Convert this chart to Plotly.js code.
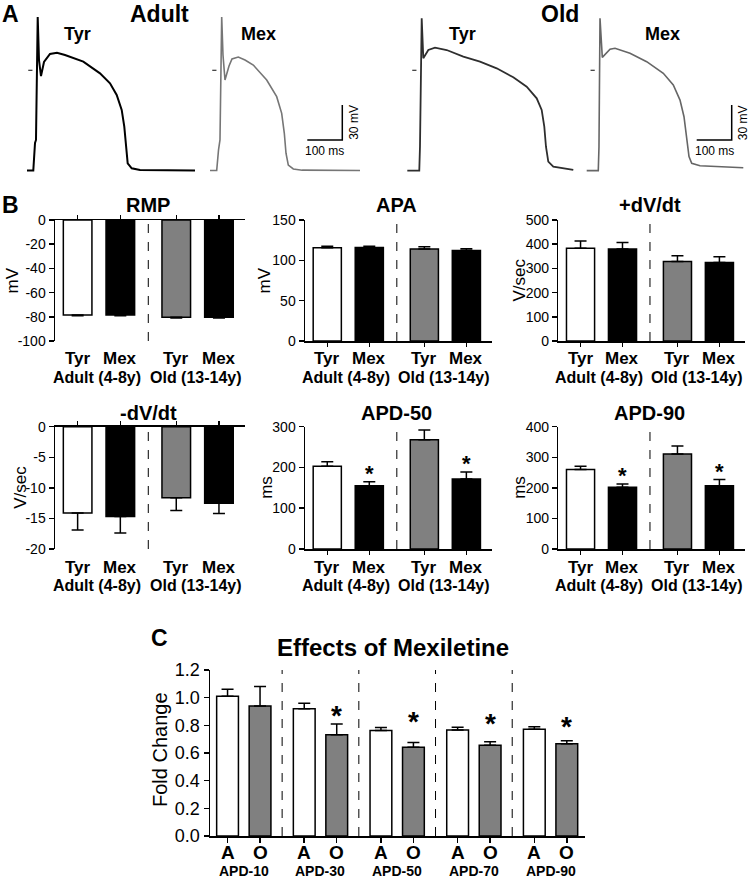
<!DOCTYPE html>
<html>
<head>
<meta charset="utf-8">
<script src="https://cdn.plot.ly/plotly-3.0.1.min.js"></script>
<style>
  html, body { margin: 0; padding: 0; background: #fff; }
  #chart { width: 750px; height: 879px; }
</style>
</head>
<body>
<div id="chart"></div>
<script>
// Mexiletine figure: A) action potential traces, B) AP parameters, C) fold change.
const W = 750, H = 879;
const FONT = 'Liberation Sans, Arial, Helvetica, sans-serif';

// ---- Panel A: representative action potentials (ms from upstroke, mV) ----
const adultTyrT = [-30.6, -12.6, -7.7, -4.9, 0, 3.7, 9.4, 18, 35.1, 55.1, 78, 130.3, 178, 206.6, 225.7, 240, 247.4, 252.3, 257.1, 268.6, 292.3, 449.4];
const adultTyrV = [-85.9, -85.9, -62.3, -59.7, 45.7, 8.8, -4.9, 7.1, 14.0, 15.1, 13.1, 7.4, -2.6, -11.1, -21.2, -34, -48.3, -68.3, -79.7, -84, -85.4, -85.9];
const adultMexT = [-33.4, -14.3, -9.1, -4.9, 0, 3.7, 9.4, 20.9, 29.4, 47.4, 66.6, 90.3, 128.6, 157.1, 171.4, 178.9, 183.7, 190.3, 204.6, 230, 395.1];
const adultMexV = [-85.9, -85.9, -68.3, -59.7, 45.7, 13.1, -8.3, 3.7, 9.7, 11.4, 8.8, 4.5, -8.3, -22.6, -36.9, -54, -71.1, -81.2, -84.6, -85.6, -85.9];
const oldTyrT = [-41.1, -6.9, -4.9, 0, 4.6, 18.9, 38, 71.4, 118.9, 166.6, 214.3, 261.7, 300, 328.6, 342.8, 350.3, 355.1, 361.7, 376, 433.1];
const oldTyrV = [-86, -86, -65.5, 44.6, 10.3, 17.4, 19.4, 17.4, 11.7, 7.4, 1.7, -6, -14.1, -24, -34, -48.3, -65.5, -78.3, -82.6, -85.4];
const oldMexT = [-38, -4.9, -2.9, 0, 6.6, 28.6, 42.9, 85.7, 133.4, 180.9, 209.4, 228.6, 240, 247.7, 254.3, 262, 285.7, 409.4];
const oldMexV = [-86, -86, -65.5, 44.6, 11.1, 18, 18.9, 14.6, 7.4, -2.6, -12.6, -25.5, -39.8, -59.7, -74, -79.7, -81.8, -83.5];
const AP_LABELS = ['Tyr', 'Mex', 'Tyr', 'Mex'];
const AGE_TITLES = ['Adult', 'Old'];
const SCALE_MS = 100, SCALE_MV = 30;

// ---- Panel B: mean and SEM for Adult Tyr, Adult Mex, Old Tyr, Old Mex ----
const B_GROUPS = ['Tyr', 'Mex', 'Tyr', 'Mex'];
const B_AGES = ['Adult (4-8y)', 'Old (13-14y)'];
const rmpMean  = [-78.5, -78.6, -80.4, -80.3];
const rmpErr   = [0.6, 0.5, 0.6, 0.6];
const apaMean  = [115.5, 116, 114.2, 112.3];
const apaErr   = [2, 1.5, 2.5, 2];
const upMean   = [383, 380, 328, 324];
const upErr    = [30, 27, 24, 24];
const downMean = [-14.1, -14.7, -11.6, -12.5];
const downErr  = [2.8, 2.7, 2.1, 1.7];
const apd50Mean = [203, 155, 268, 172];
const apd50Err  = [11, 10, 24, 17];
const apd90Mean = [260, 202, 311, 207];
const apd90Err  = [11, 11, 26, 20];
const sigVsTyr  = [false, true, false, true];

// ---- Panel C: fold change with mexiletine, Adult (A) vs Old (O) ----
const C_GROUPS = ['APD-10', 'APD-30', 'APD-50', 'APD-70', 'APD-90'];
const cAdult    = [1.01, 0.92, 0.762, 0.766, 0.772];
const cAdultErr = [0.05, 0.04, 0.022, 0.02, 0.018];
const cOld      = [0.94, 0.732, 0.642, 0.656, 0.666];
const cOldErr   = [0.14, 0.078, 0.033, 0.026, 0.023];
const cStarY    = [null, 0.91, 0.862, 0.853, 0.826];

// ---- helpers ----
const px = x => x / W;
const py = y => 1 - y / H;
const axName = (k, n) => k + 'axis' + (n === 1 ? '' : n);
const axRef = (k, n) => k + (n === 1 ? '' : n);

const traces = [];
const layout = {
  width: W, height: H,
  margin: { l: 0, r: 0, t: 0, b: 0 },
  paper_bgcolor: '#ffffff', plot_bgcolor: 'rgba(0,0,0,0)',
  showlegend: false,
  font: { family: FONT, color: '#000' },
  annotations: [], shapes: []
};
function note(text, x, y, size, extra) {
  layout.annotations.push(Object.assign({
    text: text, x: px(x), y: py(y), xref: 'paper', yref: 'paper',
    showarrow: false, xanchor: 'center', yanchor: 'middle', borderpad: 0,
    font: { family: FONT, size: size, color: '#000' }
  }, extra || {}));
}
// label at a data x position on axis xr, pixel row y
function dataLabel(text, x, xr, y, size) {
  layout.annotations.push({
    text: text, x: x, xref: xr, y: py(y), yref: 'paper', showarrow: false, borderpad: 0,
    xanchor: 'center', yanchor: 'middle', font: { family: FONT, size: size, color: '#000' }
  });
}

// ---- Panel A ----
const apT = [adultTyrT, adultMexT, oldTyrT, oldMexT];
const apV = [adultTyrV, adultMexV, oldTyrV, oldMexV];
const apColor = ['#000000', '#767676', '#2e2e2e', '#666666'];
const apWidth = [2, 1.6, 1.8, 1.6];
const apBox = [[20, 200, 37.7], [205, 365, 221.7], [400, 580, 421.7], [583, 748, 600]];
const AP_TOP = 8, AP_BOTTOM = 178, ZERO_Y = 70.3;
const PX_MS = 0.35, PX_MV = 35 / 30;

apT.forEach((t, i) => {
  const n = i + 1, [L, R, xs] = apBox[i];
  layout[axName('x', n)] = { domain: [px(L), px(R)], range: [(L - xs) / PX_MS, (R - xs) / PX_MS],
    visible: false, anchor: axRef('y', n), fixedrange: true };
  layout[axName('y', n)] = { domain: [py(AP_BOTTOM), py(AP_TOP)],
    range: [(ZERO_Y - AP_BOTTOM) / PX_MV, (ZERO_Y - AP_TOP) / PX_MV],
    visible: false, anchor: axRef('x', n), fixedrange: true };
  traces.push({ x: t, y: apV[i], type: 'scatter', mode: 'lines', xaxis: axRef('x', n), yaxis: axRef('y', n),
    line: { color: apColor[i], width: apWidth[i] }, hoverinfo: 'skip' });
  // 0 mV marker
  traces.push({ x: [-27, -15], y: [0, 0], type: 'scatter', mode: 'lines', xaxis: axRef('x', n), yaxis: axRef('y', n),
    line: { color: '#333', width: 1.2 }, hoverinfo: 'skip' });
});
// scale bars on the Mex traces
[[2, 307.3], [4, 696.7]].forEach(([n, left]) => {
  const xs = apBox[n - 1][2];
  const t0 = (left - xs) / PX_MS, v0 = (ZERO_Y - 140) / PX_MV;
  traces.push({ x: [t0, t0 + SCALE_MS, t0 + SCALE_MS], y: [v0, v0, v0 + SCALE_MV], type: 'scatter', mode: 'lines',
    xaxis: axRef('x', n), yaxis: axRef('y', n), line: { color: '#000', width: 1.5 }, hoverinfo: 'skip' });
  layout.annotations.push({ text: SCALE_MS + ' ms', x: t0 + SCALE_MS / 2, y: v0, xref: axRef('x', n), yref: axRef('y', n),
    showarrow: false, xanchor: 'center', yanchor: 'middle', yshift: -11, font: { family: FONT, size: 12 } });
  layout.annotations.push({ text: SCALE_MV + ' mV', x: t0 + SCALE_MS, y: v0 + SCALE_MV / 2, xref: axRef('x', n), yref: axRef('y', n),
    showarrow: false, xanchor: 'center', yanchor: 'middle', textangle: -90, xshift: 12, font: { family: FONT, size: 12 } });
});
note('<b>A</b>', 10, 14, 23);
note('<b>' + AGE_TITLES[0] + '</b>', 159, 14, 23);
note('<b>' + AGE_TITLES[1] + '</b>', 560, 14, 23);
[77, 258, 462, 662].forEach((x, i) => note('<b>' + AP_LABELS[i] + '</b>', x, 34, 18));

// ---- Panel B ----
const B_COLORS = ['#ffffff', '#000000', '#808080', '#000000'];
const B_POS = [0, 1, 2.31, 3.31];
const B_CHARTS = [
  { title: 'RMP',     unit: 'mV',    mean: rmpMean,   err: rmpErr,   range: [-100, 0], dtick: 20 },
  { title: 'APA',     unit: 'mV',    mean: apaMean,   err: apaErr,   range: [0, 150],  dtick: 50 },
  { title: '+dV/dt',  unit: 'V/sec', mean: upMean,    err: upErr,    range: [0, 500],  dtick: 100 },
  { title: '-dV/dt',  unit: 'V/sec', mean: downMean,  err: downErr,  range: [-20, 0],  dtick: 5 },
  { title: 'APD-50',  unit: 'ms',    mean: apd50Mean, err: apd50Err, range: [0, 300],  dtick: 100, stars: sigVsTyr },
  { title: 'APD-90',  unit: 'ms',    mean: apd90Mean, err: apd90Err, range: [0, 400],  dtick: 100, stars: sigVsTyr }
];
const B_LEFT = [55, 305, 558.3], B_RIGHT = [245, 492, 745];
const B_ROW = [[220, 341], [426.7, 549]];
const B_TITLE_Y = [205, 413];
const B_LABEL_Y = [[359, 377], [567, 585]];
const B_UNIT_X = [12, 264, 519, 21, 267, 520];

B_CHARTS.forEach((c, i) => {
  const n = 5 + i, col = i % 3, row = Math.floor(i / 3);
  const neg = c.range[1] === 0;
  const xr = axRef('x', n), yr = axRef('y', n);
  const ticks = [];
  for (let v = c.range[0]; v <= c.range[1] + 1e-9; v += c.dtick) ticks.push(v);
  layout[axName('x', n)] = {
    domain: [px(B_LEFT[col]), px(B_RIGHT[col])], range: [-0.53, 3.92], anchor: yr,
    side: neg ? 'top' : 'bottom', showline: true, linecolor: '#000', linewidth: 1.5,
    ticks: 'outside', ticklen: 4, tickwidth: 1.5, tickcolor: '#000', tickvals: B_POS,
    showticklabels: false, showgrid: false, zeroline: false, fixedrange: true
  };
  layout[axName('y', n)] = {
    domain: [py(B_ROW[row][1]), py(B_ROW[row][0])], range: c.range, anchor: xr,
    showline: true, linecolor: '#000', linewidth: 1.5, ticks: 'outside', ticklen: 5, tickwidth: 1.5,
    tickcolor: '#000', tickvals: ticks, ticktext: ticks.map(String), tickfont: { family: FONT, size: 14 },
    showgrid: false, zeroline: false, fixedrange: true
  };
  traces.push({
    x: B_POS, y: c.mean, type: 'bar', width: 0.67, xaxis: xr, yaxis: yr,
    marker: { color: B_COLORS, line: { color: '#000', width: 1.5 } },
    error_y: { type: 'data', symmetric: false,
      array: neg ? c.err.map(() => 0) : c.err, arrayminus: neg ? c.err : c.err.map(() => 0),
      color: '#000', thickness: 1.5, width: 6 },
    hoverinfo: 'skip'
  });
  layout.shapes.push({ type: 'line', xref: xr, yref: yr + ' domain', x0: 1.655, x1: 1.655, y0: 0, y1: 1,
    line: { color: '#000', width: 1, dash: 'dash' } });
  dataLabel('<b>' + c.title + '</b>', 1.655, xr, B_TITLE_Y[row], 20);
  note(c.unit, B_UNIT_X[i], (B_ROW[row][0] + B_ROW[row][1]) / 2, 17, { textangle: -90 });
  B_GROUPS.forEach((g, j) => dataLabel('<b>' + g + '</b>', B_POS[j], xr, B_LABEL_Y[row][0], 17));
  [0.45, 2.78].forEach((x, j) => dataLabel('<b>' + B_AGES[j] + '</b>', x, xr, B_LABEL_Y[row][1], 16));
  if (c.stars) c.stars.forEach((s, j) => {
    if (!s) return;
    layout.annotations.push({ text: '<b>*</b>', x: B_POS[j], xref: xr, y: c.mean[j] + c.err[j], yref: yr,
      showarrow: false, xanchor: 'center', yanchor: 'middle', yshift: 8, font: { family: FONT, size: 22 } });
  });
});
note('<b>B</b>', 10, 205, 23);

// ---- Panel C ----
const C_STEP = 2.36;
const cPosA = C_GROUPS.map((g, i) => i * C_STEP);
const cPosO = C_GROUPS.map((g, i) => i * C_STEP + 1);
const cTicks = [0, 0.2, 0.4, 0.6, 0.8, 1.0, 1.2];
layout.xaxis11 = {
  domain: [px(210), px(585)], range: [-0.54, 11.0], anchor: 'y11',
  showline: true, linecolor: '#000', linewidth: 1.5, ticks: 'outside', ticklen: 5, tickwidth: 1.5,
  tickcolor: '#000', tickvals: cPosA.concat(cPosO), showticklabels: false,
  showgrid: false, zeroline: false, fixedrange: true
};
layout.yaxis11 = {
  domain: [py(836), py(670)], range: [0, 1.2], anchor: 'x11',
  showline: true, linecolor: '#000', linewidth: 1.5, ticks: 'outside', ticklen: 5, tickwidth: 1.5,
  tickcolor: '#000', tickvals: cTicks, ticktext: cTicks.map(v => v.toFixed(1)),
  tickfont: { family: FONT, size: 18 }, showgrid: false, zeroline: false, fixedrange: true
};
[[cPosA, cAdult, cAdultErr, '#ffffff'], [cPosO, cOld, cOldErr, '#808080']].forEach(([xs, ys, es, col]) => {
  traces.push({
    x: xs, y: ys, type: 'bar', width: 0.67, xaxis: 'x11', yaxis: 'y11',
    marker: { color: col, line: { color: '#000', width: 1.5 } },
    error_y: { type: 'data', symmetric: false, array: es, arrayminus: es.map(() => 0),
      color: '#000', thickness: 1.5, width: 6 },
    hoverinfo: 'skip'
  });
});
C_GROUPS.forEach((g, i) => {
  if (i > 0) layout.shapes.push({ type: 'line', xref: 'x11', yref: 'y11 domain',
    x0: i * C_STEP - 0.68, x1: i * C_STEP - 0.68, y0: 0, y1: 1,
    line: { color: '#000', width: 1, dash: 'dash' } });
  dataLabel('<b>A</b>', cPosA[i], 'x11', 852, 19);
  dataLabel('<b>O</b>', cPosO[i], 'x11', 852, 19);
  dataLabel('<b>' + g + '</b>', i * C_STEP + 0.5, 'x11', 871, 14);
  if (cStarY[i] !== null) layout.annotations.push({ text: '<b>*</b>', x: cPosO[i], xref: 'x11', y: cStarY[i], yref: 'y11',
    showarrow: false, xanchor: 'center', yanchor: 'middle', yshift: -5, font: { family: FONT, size: 28 } });
});
note('<b>C</b>', 159, 638, 23);
note('<b>Effects of Mexiletine</b>', 393, 647, 24);
note('Fold Change', 160, 750, 20, { textangle: -90 });

Plotly.newPlot('chart', traces, layout, { staticPlot: true, displayModeBar: false });
</script>
</body>
</html>
